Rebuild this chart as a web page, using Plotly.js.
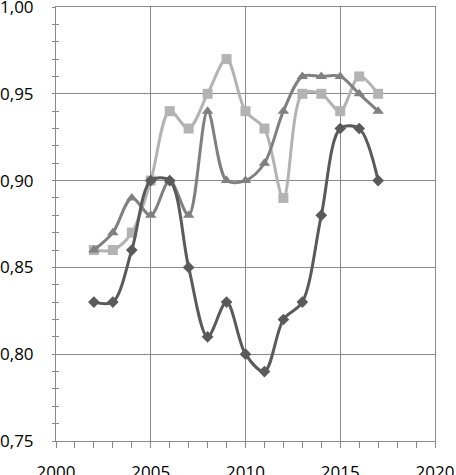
<!DOCTYPE html>
<html>
<head>
<meta charset="utf-8">
<script src="https://cdn.plot.ly/plotly-3.0.1.min.js"></script>
<style>html,body{margin:0;padding:0;background:#fff;}#chart{width:456px;height:475px;}</style>
</head>
<body>
<div id="chart"></div>
<script>
const years = [2002,2003,2004,2005,2006,2007,2008,2009,2010,2011,2012,2013,2014,2015,2016,2017];
const seriesDark = [0.83,0.83,0.86,0.90,0.90,0.85,0.81,0.83,0.80,0.79,0.82,0.83,0.88,0.93,0.93,0.90];
const seriesMid = [0.86,0.87,0.89,0.88,0.90,0.88,0.94,0.90,0.90,0.91,0.94,0.96,0.96,0.96,0.95,0.94];
const seriesLight = [0.86,0.86,0.87,0.90,0.94,0.93,0.95,0.97,0.94,0.93,0.89,0.95,0.95,0.94,0.96,0.95];
const xTicks = [2000,2005,2010,2015,2020];
const yTicks = [0.75,0.80,0.85,0.90,0.95,1.00];

const gridCol = '#8a8a8a';
const font = {family:'Open Sans, sans-serif', size:17, color:'#000'};

function tr(y, color, symbol, size){
  return {x:years, y:y, type:'scatter', mode:'lines+markers',
    line:{color:color, width:3, shape:'spline', smoothing:0.9},
    marker:{color:color, symbol:symbol, size:size}, hoverinfo:'skip'};
}
const data = [
  tr(seriesLight,'#b3b3b3','square',10),
  tr(seriesMid,'#808080','triangle-up',10),
  tr(seriesDark,'#5a5a5a','diamond',9)
];
const layout = {
  width:456, height:475,
  margin:{l:56, r:21, t:7, b:34},
  paper_bgcolor:'#fff', plot_bgcolor:'#fff',
  separators:', ',
  showlegend:false,
  font:font,
  xaxis:{range:[2000,2020], tickvals:xTicks, ticktext:xTicks.map(String),
    showgrid:true, gridcolor:gridCol, gridwidth:1,
    showline:true, linecolor:gridCol, linewidth:1, mirror:true,
    ticks:'outside', ticklen:6, tickcolor:gridCol,
    minor:{dtick:1, tick0:2000, ticks:'outside', ticklen:6, tickcolor:gridCol, showgrid:false},
    zeroline:false, tickfont:font, ticklabelstandoff:10, ticklabeloverflow:'allow'},
  yaxis:{range:[0.75,1.00], tickvals:yTicks, ticktext:yTicks.map(v=>v.toFixed(2).replace('.',',')),
    showgrid:true, gridcolor:gridCol, gridwidth:1,
    showline:true, linecolor:gridCol, linewidth:1, mirror:true,
    ticks:'outside', ticklen:3, tickcolor:gridCol,
    minor:{dtick:0.01, tick0:0.75, ticks:'outside', ticklen:3, tickcolor:gridCol, showgrid:false},
    zeroline:false, tickfont:font, ticklabelstandoff:15, ticklabeloverflow:'allow'},
  yaxis2:{range:[0.75,1.00], overlaying:'y', side:'left', showgrid:false, showline:false,
    showticklabels:false, zeroline:false,
    tickvals:yTicks, ticks:'inside', ticklen:3, tickcolor:gridCol,
    minor:{dtick:0.01, tick0:0.75, ticks:'inside', ticklen:3, tickcolor:gridCol, showgrid:false}}
};
data.push({x:[2000], y:[0.75], yaxis:'y2', type:'scatter', mode:'markers', marker:{opacity:0}, hoverinfo:'skip'});
Plotly.newPlot('chart', data, layout, {displayModeBar:false, staticPlot:true});
</script>
</body>
</html>
